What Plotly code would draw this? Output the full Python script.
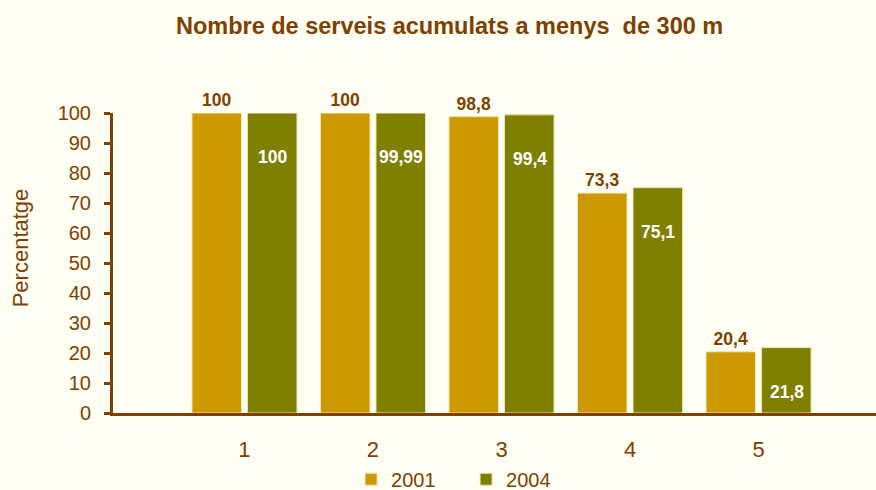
import plotly.graph_objects as go

categories = ["1", "2", "3", "4", "5"]
series_names = ["2001", "2004"]
values_2001 = [100, 100, 98.8, 73.3, 20.4]
values_2004 = [100, 99.99, 99.4, 75.1, 21.8]
y_ticks = [0, 10, 20, 30, 40, 50, 60, 70, 80, 90, 100]

BROWN = "#7F4000"
C2001 = "#CC9900"
C2004 = "#808000"
BG = "#FFFFF3"
FONT = "Liberation Sans, Arial, sans-serif"


def fmt(v):
    return f"{v:g}".replace(".", ",")


fig = go.Figure()
fig.add_trace(go.Bar(
    x=categories, y=values_2001, name=series_names[0],
    marker=dict(color=C2001, line=dict(color="#F3E7B5", width=1)),
    text=[fmt(v) for v in values_2001], textposition="outside",
    textfont=dict(family=FONT, size=17.5, color=BROWN, weight="bold"),
    cliponaxis=False,
))
fig.add_trace(go.Bar(
    x=categories, y=values_2004, name=series_names[1],
    marker=dict(color=C2004, line=dict(color="#E8E6B0", width=1)),
))

# labels inside the 2004 bars (category axis: annotation x is the category index)
for i, v in enumerate(values_2004):
    fig.add_annotation(
        x=i, y=v, xref="x", yref="y", text=fmt(v), showarrow=False,
        xshift=28, yshift=-44, yanchor="middle",
        font=dict(family=FONT, size=17.5, color="white", weight="bold"),
    )

fig.add_annotation(
    text="Percentatge", textangle=-90, showarrow=False,
    xref="paper", yref="paper", x=-0.122, y=0.552,
    xanchor="center", yanchor="middle",
    font=dict(family=FONT, size=22, color=BROWN),
)

fig.update_layout(
    width=876, height=490,
    margin=dict(l=113, r=0, t=113, b=77, autoexpand=False),
    paper_bgcolor=BG, plot_bgcolor=BG,
    title=dict(
        text="Nombre de serveis acumulats a menys  de 300 m",
        x=0.5132, xanchor="center", y=0.947, yanchor="middle", yref="container",
        font=dict(family=FONT, size=23.5, color=BROWN, weight="bold"),
    ),
    barmode="group", bargap=0.136, bargroupgap=0.108,
    showlegend=True,
    legend=dict(
        orientation="h", x=0.312, xanchor="left", xref="paper",
        y=0.022, yanchor="middle", yref="container",
        font=dict(family=FONT, size=20, color=BROWN),
        bgcolor="rgba(0,0,0,0)", entrywidth=70, traceorder="normal",
    ),
    xaxis=dict(
        type="category", range=[-1.023, 4.914],
        showline=True, linecolor=BROWN, linewidth=3,
        ticks="", showgrid=False, zeroline=False,
        tickfont=dict(family=FONT, size=22, color=BROWN),
        ticklabelstandoff=15,
    ),
    yaxis=dict(
        range=[0, 100], tickvals=y_ticks,
        showline=True, linecolor=BROWN, linewidth=3,
        ticks="outside", ticklen=6, tickwidth=3, tickcolor=BROWN,
        showgrid=False, zeroline=False,
        tickfont=dict(family=FONT, size=20, color=BROWN),
        ticklabelstandoff=9,
    ),
)

fig.write_html(
    "out.html",
    config={"displayModeBar": False},
    post_script="document.body.style.margin='0';document.body.style.background='" + BG + "';",
)
